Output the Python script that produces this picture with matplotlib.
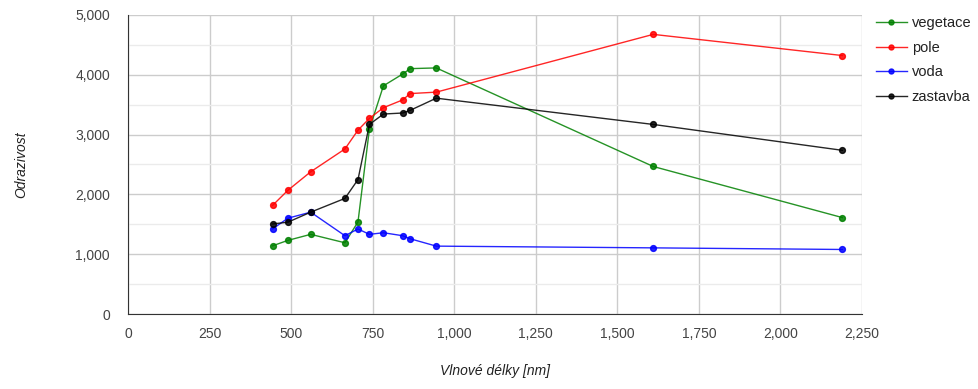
import matplotlib.pyplot as plt
from matplotlib.ticker import FuncFormatter, MultipleLocator

plt.rcParams['font.family'] = ['Liberation Sans', 'DejaVu Sans']

# vlnove delky pasem (Sentinel-2)
wavelengths = [443, 490, 560, 665, 705, 740, 783, 842, 865, 945, 1610, 2190]

vegetace = [1140, 1231, 1332, 1191, 1540, 3091, 3816, 4013, 4103, 4115, 2467, 1612]
pole = [1815, 2068, 2378, 2760, 3074, 3271, 3450, 3580, 3686, 3710, 4676, 4322]
voda = [1422, 1602, 1703, 1309, 1422, 1332, 1359, 1309, 1258, 1135, 1106, 1079]
zastavba = [1506, 1535, 1703, 1933, 2248, 3170, 3344, 3361, 3406, 3609, 3170, 2737]

series = [('vegetace', vegetace, 'green'),
          ('pole', pole, 'red'),
          ('voda', voda, 'blue'),
          ('zastavba', zastavba, 'black')]


def format_with_commas(x, pos):
    return f'{int(x):,}'


fig = plt.figure(figsize=(9.79, 3.89), dpi=100)
ax = fig.add_axes([128 / 979, 1 - 314 / 389, 734 / 979, 299 / 389])

for name, vals, col in series:
    ax.plot(wavelengths, vals, color=col, linewidth=1, marker='o',
            markersize=4.2, label=name, alpha=0.85)

ax.set_xlim(0, 2250)
ax.set_ylim(0, 5000)
ax.xaxis.set_major_locator(MultipleLocator(250))
ax.yaxis.set_major_locator(MultipleLocator(1000))
ax.yaxis.set_minor_locator(MultipleLocator(500))
ax.xaxis.set_major_formatter(FuncFormatter(format_with_commas))
ax.yaxis.set_major_formatter(FuncFormatter(format_with_commas))

ax.grid(axis='x', which='major', color='#cccccc', linewidth=1)
ax.grid(axis='y', which='major', color='#cccccc', linewidth=1)
ax.grid(axis='y', which='minor', color='#ebebeb', linewidth=1)
ax.set_axisbelow(True)

for s in ['top', 'right']:
    ax.spines[s].set_visible(False)
ax.spines['left'].set_color('#333333')
ax.spines['bottom'].set_color('#333333')

ax.tick_params(axis='both', which='both', length=0, labelsize=10,
               colors='#444444')
ax.tick_params(axis='y', pad=13)
ax.tick_params(axis='x', pad=9)

ax.set_xlabel('Vlnové délky [nm]', fontsize=10, style='italic',
              color='#222222', labelpad=17)
ax.set_ylabel('Odrazivost', fontsize=10, style='italic',
              color='#222222', labelpad=34)

ax.legend(loc='upper left', bbox_to_anchor=(1.019, 0.995), frameon=False,
          fontsize=10.5, handlelength=2.1, handletextpad=0.35,
          labelspacing=0.72, borderpad=0, borderaxespad=0,
          labelcolor='#222222', markerscale=0.85)

fig.savefig('out.png', dpi=100)
